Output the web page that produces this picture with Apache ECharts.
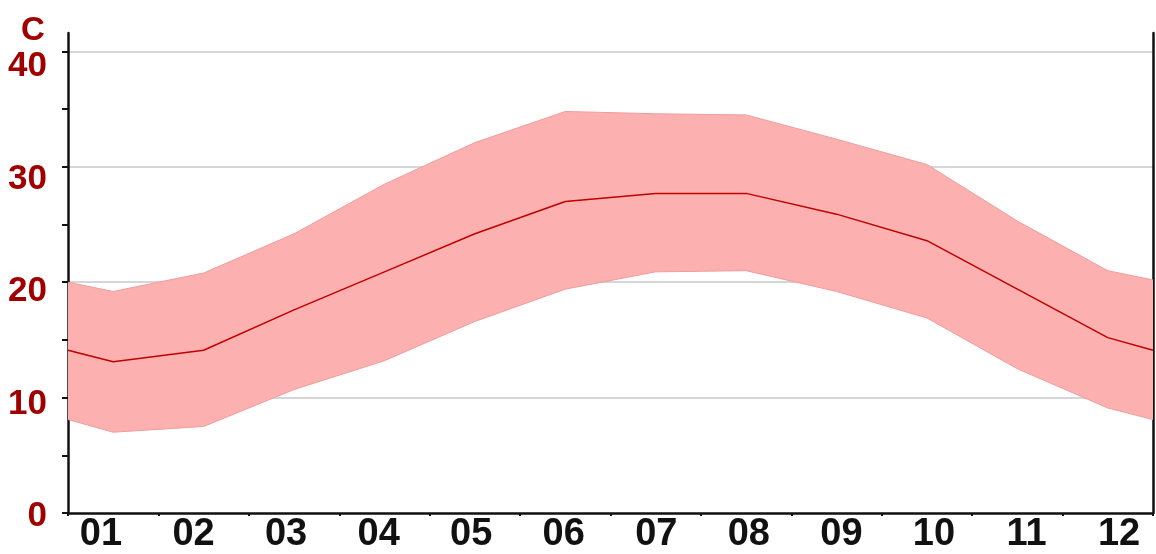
<!DOCTYPE html>
<html>
<head>
<meta charset="utf-8">
<title>Monthly temperature range</title>
<script src="https://cdn.jsdelivr.net/npm/echarts@6/dist/echarts.min.js"></script>
<style>
  html, body { margin: 0; padding: 0; background: #fff; }
  #chart { width: 1156px; height: 554px; }
</style>
</head>
<body>
<div id="chart"></div>
<script>
// month positions; half-month points at each end close the year
const monthPos = [0.5, 1, 2, 3, 4, 5, 6, 7, 8, 9, 10, 11, 12, 12.5];
const monthLabels = ['01', '02', '03', '04', '05', '06', '07', '08', '09', '10', '11', '12'];
const highTemp = [20.0, 19.2, 20.8, 24.2, 28.5, 32.1, 34.8, 34.6, 34.5, 32.4, 30.2, 25.3, 21.0, 20.2];
const meanTemp = [14.1, 13.1, 14.1, 17.6, 20.9, 24.2, 27.0, 27.7, 27.7, 25.9, 23.6, 19.4, 15.2, 14.1];
const lowTemp  = [8.1, 7.0, 7.5, 10.7, 13.2, 16.6, 19.4, 20.9, 21.0, 19.2, 16.9, 12.5, 9.1, 8.1];
const yLabels = [0, 10, 20, 30, 40];
const yTicks = [0, 5, 10, 15, 20, 25, 30, 35, 40];
const xTicks = [0.5, 1.5, 2.5, 3.5, 4.5, 5.5, 6.5, 7.5, 8.5, 9.5, 10.5, 11.5, 12.5];

const RED = '#a00000';
const BAND = '#fdb0b0';
const BAND_EDGE = '#ef9c9c';

// labels in the picture sit a little below their gridline, more so near the top
const labelDrop = { 0: 3, 10: 7, 20: 9, 30: 12, 40: 15 };
const rich = {};
yLabels.forEach(v => {
  rich['v' + v] = {
    color: RED, fontSize: 35, fontWeight: 'bold', fontFamily: 'Liberation Sans, Arial',
    padding: [labelDrop[v] * 2, 0, 0, 0]
  };
});

const chart = echarts.init(document.getElementById('chart'), null, { renderer: 'canvas' });

const pairs = ys => monthPos.map((x, i) => [x, ys[i]]);

// whole band as one polygon, drawn once through the axis scales
function renderBand(params, api) {
  if (params.dataIndex !== 0) return;
  const top = monthPos.map((x, i) => api.coord([x, highTemp[i]]));
  const bottom = monthPos.map((x, i) => api.coord([x, lowTemp[i]])).reverse();
  return {
    type: 'polygon',
    shape: { points: top.concat(bottom) },
    style: { fill: BAND, stroke: null }
  };
}

chart.setOption({
  animation: false,
  title: {
    text: 'C', left: 16, top: 9,
    textStyle: { color: RED, fontSize: 33, fontWeight: 'bold', fontFamily: 'Liberation Sans, Arial' }
  },
  grid: { left: 68, right: 3, top: 33, bottom: 39 },
  xAxis: [
    {
      type: 'value', min: 0.5, max: 12.5, position: 'bottom',
      axisLine: { show: true, lineStyle: { color: '#111', width: 2.5 } },
      axisTick: { show: true, length: 3, customValues: xTicks, lineStyle: { color: '#111', width: 2 } },
      axisLabel: { show: false },
      splitLine: { show: false }
    },
    {
      // label axis: the month names are spaced a bit wider than the data
      type: 'value', min: 0.6434, max: 12.367, position: 'bottom',
      axisLine: { show: false }, axisTick: { show: false }, splitLine: { show: false },
      axisLabel: {
        customValues: [1, 2, 3, 4, 5, 6, 7, 8, 9, 10, 11, 12],
        formatter: v => monthLabels[Math.round(v) - 1],
        color: '#111', fontSize: 38, fontWeight: 'bold', fontFamily: 'Liberation Sans, Arial',
        margin: 3
      }
    }
  ],
  yAxis: [
    {
      type: 'value', min: 0, max: 41.6, interval: 10, position: 'left',
      axisLine: { show: true, lineStyle: { color: '#111', width: 2.5 } },
      axisTick: { show: false },
      axisLabel: {
        showMaxLabel: false, margin: 21,
        formatter: v => '{v' + v + '|' + v + '}', rich: rich
      },
      splitLine: { show: true, showMinLine: false, showMaxLine: false, lineStyle: { color: '#c8c8c8', width: 1.5 } }
    },
    {
      // ticks every 5
      type: 'value', min: 0, max: 41.6, position: 'left',
      axisLine: { show: false },
      axisTick: { show: true, length: 6, customValues: yTicks, lineStyle: { color: '#111', width: 2 } },
      axisLabel: { show: false }, splitLine: { show: false }
    },
    {
      type: 'value', min: 0, max: 41.6, position: 'right',
      axisLine: { show: true, lineStyle: { color: '#111', width: 2.5 } },
      axisTick: { show: false }, axisLabel: { show: false }, splitLine: { show: false }
    }
  ],
  series: [
    {
      name: 'band', type: 'custom', xAxisIndex: 0, yAxisIndex: 0,
      data: pairs(lowTemp), renderItem: renderBand, silent: true, z: 1
    },
    {
      name: 'low', type: 'line', xAxisIndex: 0, yAxisIndex: 0,
      data: pairs(lowTemp), showSymbol: false, silent: true, z: 2,
      lineStyle: { color: BAND_EDGE, width: 1 }
    },
    {
      name: 'high', type: 'line', xAxisIndex: 0, yAxisIndex: 0,
      data: pairs(highTemp), showSymbol: false, silent: true, z: 2,
      lineStyle: { color: BAND_EDGE, width: 1 }
    },
    {
      name: 'mean', type: 'line', xAxisIndex: 0, yAxisIndex: 0,
      data: pairs(meanTemp), showSymbol: false, z: 3,
      lineStyle: { color: '#c00000', width: 1.5 }
    }
  ]
});
</script>
</body>
</html>
